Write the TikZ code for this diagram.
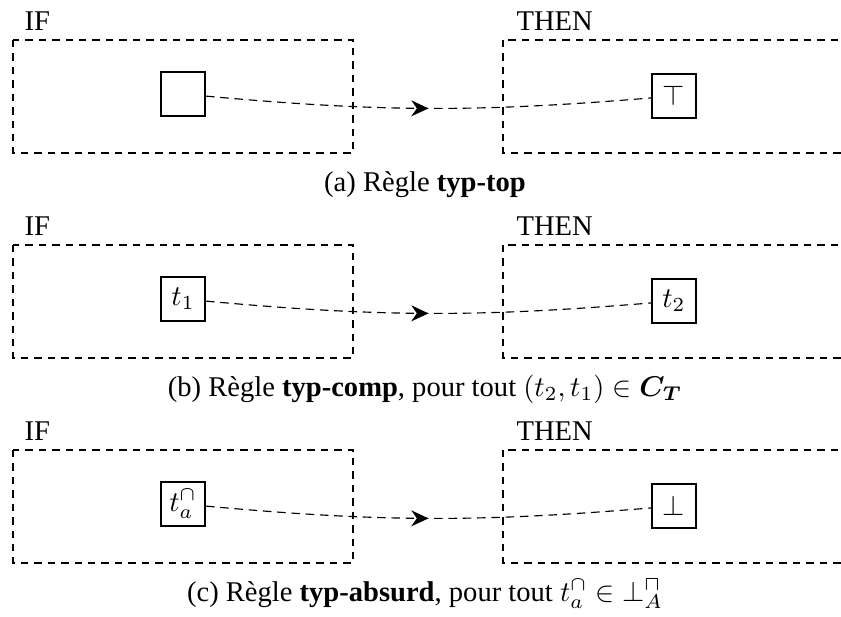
\documentclass[tikz,border=0pt]{standalone}
\usepackage{amsmath}
\usepackage{fontspec}
\setmainfont{Liberation Serif}
\usetikzlibrary{arrows.meta, decorations.markings}

\tikzset{
  zone/.style={draw, line width=0.85pt, dash pattern=on 2.6pt off 2.1pt},
  term/.style={draw, line width=0.7pt, minimum size=15.4pt, inner sep=1pt},
  head/.style={anchor=base west, inner sep=0pt},
  link/.style={line width=0.4pt, dash pattern=on 3pt off 2pt,
    postaction={decorate}, decoration={markings,
      mark=at position 0.5 with {\arrow{Stealth[length=6pt, width=5.6pt]}}}},
}

\begin{document}
\begin{tikzpicture}[x=0.35pt, y=-0.35pt]
  \clip (0,0) rectangle (841,617);
  % one row per rule
  \foreach \off/\lhs/\rhs/\capt [count=\k] in {
      0/{}/{$\top$}/{(a) Règle \textbf{typ-top}},
      205/{$t_1$}/{$t_2$}/{(b) Règle \textbf{typ-comp}, pour tout $(t_2,t_1) \in \boldsymbol{C_T}$},
      410/{$t_a^{\cap}$}/{$\bot$}/{(c) Règle \textbf{typ-absurd}, pour tout $t_a^{\cap} \in \bot_A^{\sqcap}$}} {
    \draw[zone] (13,40+\off) rectangle (353,153+\off);
    \draw[zone] (503,40+\off) rectangle (900,153+\off);
    \node[head] (if\k) at (24,30+\off) {IF};
    \node[head] (then\k) at (516,30+\off) {THEN};
    \node[term] (src\k) at (183,94+\off) {\lhs};
    \node[term] (dst\k) at (674,96+\off) {\rhs};
    \draw[link] (src\k) to[bend right=5] (dst\k);
    \node[anchor=base] (cap\k) at (425,191+\off) {\capt};
  }
\end{tikzpicture}
\end{document}
